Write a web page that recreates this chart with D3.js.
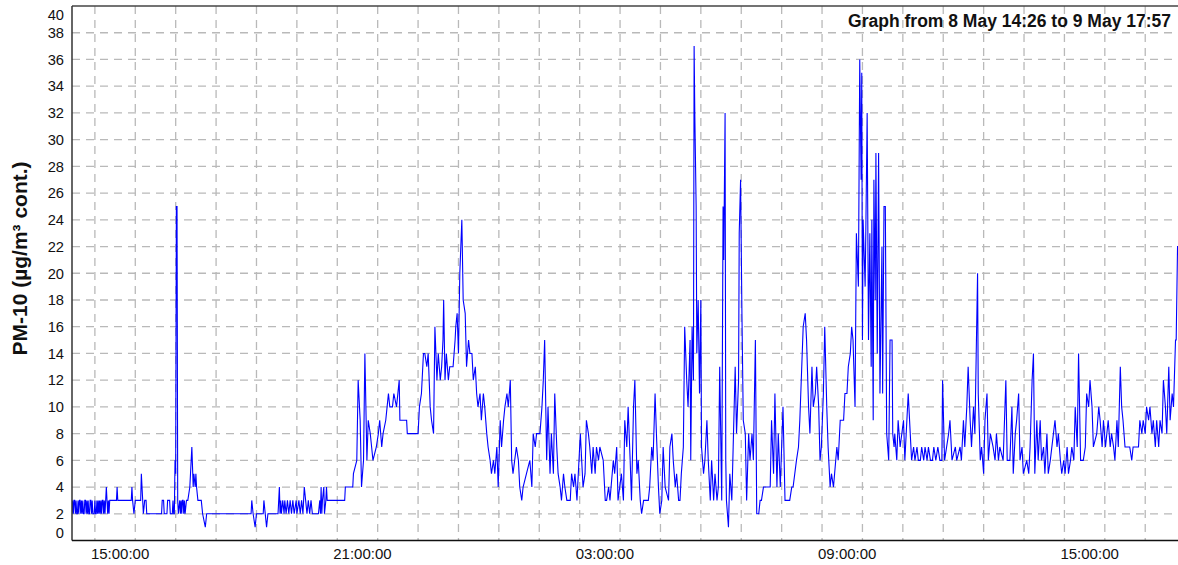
<!DOCTYPE html>
<html><head><meta charset="utf-8">
<script src="https://cdn.jsdelivr.net/npm/d3@7"></script>
<style>
html,body{margin:0;padding:0;background:#fff;}
svg{display:block;font-family:"Liberation Sans",Arial,sans-serif;}
</style></head>
<body><svg id="c" width="1178" height="565"></svg>
<script>
// ---- data (minutes after 8 May 14:26, PM-10 µg/m3) ----
const startTime = "2019-05-08T14:26:00";
const endTime = "2019-05-09T17:57:00";
const title = "Graph from 8 May 14:26 to 9 May 17:57";
const yLabel = "PM-10 (µg/m³ cont.)";
const yTicks = [0,2,4,6,8,10,12,14,16,18,20,22,24,26,28,30,32,34,36,38,40];
const xLabelTimes = ["2019-05-08T15:00:00","2019-05-08T21:00:00","2019-05-09T03:00:00","2019-05-09T09:00:00","2019-05-09T15:00:00"];

const minutes = [
0,1,2,3,4,5,6,7,8,9,10,11,12,13,14,15,16,17,18,19,20,21,22,23,24,25,26,27,28,29,30,31,32,33,34,35,36,37,38,39,40,41,42,43,44,45,46,47,48,49,50,51,52,53,54,55,56,
66,67,68,88,89,90,92,94,102,103,106,108,110,111,133,134,136,137,141,142,145,146,149,150,151,152,153,154,155,156,157,158,160,161,162,163,164,165,166,167,168,170,172,175,176,178,180,181,183,184,185,187,192,194,198,200,266,267,269,272,274,284,285,289,291,306,308,309,310,311,313,315,316,318,320,322,324,326,328,330,333,334,337,339,341,343,345,347,349,351,353,355,357,360,366,368,369,370,371,372,374,375,377,378,379,405,406,417,
418,423,425,428,430,433,435,438,440,443,445,447,452,455,457,460,462,466,468,470,472,476,478,482,486,487,497,498,514,516,519,522,524,527,529,532,534,537,539,542,544,547,549,551,552,554,556,559,561,566,569,570,572,574,576,579,581,584,586,589,591,594,596,599,601,603,606,608,611,613,616,618,621,623,626,628,631,633,636,638,641,643,646,648,651,653,655,660,663,665,668,670,675,680,683,685,688,690,695,698,700,702,705,
707,710,712,715,717,720,722,725,727,730,732,735,740,742,745,747,750,755,757,759,762,764,767,769,772,774,777,779,782,784,789,792,794,797,799,804,806,809,811,816,819,821,824,826,829,831,834,836,839,841,844,846,849,856,858,861,863,866,868,871,873,876,
878,881,886,888,891,893,896,898,901,903,905,908,910,913,915,918,919,921,923,924,925,927,928,930,932,934,935,938,940,943,945,948,950,953,955,958,960,962,965,967,968,970,971,972,975,977,980,982,985,987,990,991,993,995,997,1000,1002,1005,1007,1010,1012,1015,1017,1020,1022,1024,1027,1037,1039,1042,1044,1047,1049,1052,1056,1059,1066,1069,1071,
1076,1079,1081,1086,1089,1091,1094,1096,1099,1101,1104,1106,1109,1111,1113,1116,1118,1121,1123,1126,1128,1131,1136,1138,1141,1146,1148,1151,1153,1156,1158,1160,1163,1165,1168,1170,1172,1173,1174,1175,1178,1179,1181,1183,1185,1187,1188,1190,1191,1193,1194,1196,1198,1200,1203,1204,1206,1208,1210,1213,1215,1218,1219,1221,1222,1225,1227,1230,
1235,1237,1240,1242,1245,1247,1250,1252,1255,1257,1260,1262,1265,1267,1270,1272,1275,1278,1280,1283,1286,1289,1292,1293,1296,1302,1304,1307,1312,1314,1319,1321,1324,1326,1329,1331,1334,1336,1339,1341,1343,1345,1346,1349,1351,1354,1356,1359,1361,1364,1368,1371,1373,1376,1378,1383,1387,1389,1393,1396,1398,1401,1403,1406,1408,1411,1413,1418,1421,1423,1426,1428,1430,1433,1435,1438,1440,1443,1445,1448,1450,1453,
1460,1463,1465,1468,1470,1473,1475,1478,1480,1483,1485,1488,1490,1493,1495,1498,1502,1505,1507,1510,1512,1515,1517,1522,1525,1527,1530,1532,1535,1539,1542,1544,1547,1549,1552,1554,1557,1559,1561,1564,1571,1574,1576,1584,1586,1589,1591,1594,1596,1599,1601,1604,1606,1609,1611,1614,1616,1619,1621,1624,1626,1629,1631,1634,1636,1639,1640,1642,1646,1651
];
const pm10 = [
2,3,2,3,3,2,3,2,2,3,2,3,3,2,3,2,3,2,2,3,3,2,3,2,3,2,2,3,3,2,3,2,2,2,3,2,2,3,2,3,2,3,2,3,2,3,3,2,3,2,3,4,3,2,3,2,3,
3,4,3,3,4,3,2,3,3,5,2,3,3,2,2,3,3,2,2,3,3,2,2,3,2,2,6,5,25,25,3,2,3,2,3,2,3,3,2,3,2,3,3,4,5,7,4,5,4,5,4,3,3,2,1,2,2,3,2,1,2,2,3,1,2,2,4,2,3,2,3,2,3,2,3,2,3,2,3,2,3,2,3,2,3,2,4,3,2,3,2,3,2,2,2,3,2,4,2,3,4,2,3,4,3,3,4,4,
5,6,12,9,4,6,14,6,9,8,7,6,7,8,9,7,8,9,10,11,10,10,11,10,12,9,9,8,8,10,11,14,14,13,14,10,9,8,16,12,14,12,13,15,18,12,14,12,13,13,15,16,17,14,20,24,18,17,13,15,14,14,12,13,11,10,11,9,11,10,8,7,6,5,6,5,7,4,9,7,9,10,11,10,12,6,5,7,6,4,3,4,5,6,4,8,7,8,8,10,12,15,6,
10,5,8,5,11,7,5,4,3,5,4,3,3,5,4,5,3,8,6,4,5,9,8,7,5,7,5,7,6,7,6,3,3,4,3,6,5,7,3,5,3,9,7,10,6,3,10,12,5,6,3,2,3,3,4,7,6,11,8,4,2,3,
7,4,3,7,8,6,4,5,3,3,5,7,16,12,10,15,6,16,12,37,32,25,14,18,11,18,7,5,6,9,6,3,6,3,5,3,4,13,3,25,21,32,6,3,1,5,3,7,13,8,12,23,27,17,9,8,3,8,6,8,6,15,2,2,3,3,4,4,9,5,11,4,8,4,10,3,3,4,4,
6,7,9,16,17,15,10,8,13,10,11,13,10,6,7,11,16,10,7,4,5,4,7,6,9,9,11,11,13,14,16,15,10,23,19,36,27,35,15,24,19,23,32,15,23,13,24,9,27,18,29,14,29,11,22,11,25,25,8,6,15,15,8,7,8,6,9,7,
9,6,9,11,8,6,7,6,7,6,6,7,6,7,6,7,6,6,7,6,7,6,6,12,6,8,9,6,7,6,7,6,9,7,10,13,9,7,10,8,14,20,11,6,7,5,9,11,6,8,7,6,8,6,7,6,12,6,6,10,5,8,9,11,6,7,5,6,5,7,12,14,5,9,6,9,6,7,5,8,5,6,
9,7,8,6,5,6,5,7,5,6,7,6,10,7,14,6,6,7,11,10,12,10,7,8,10,9,7,9,7,9,7,8,7,6,9,7,13,10,9,7,7,6,7,7,9,8,9,8,10,9,10,8,9,7,9,7,9,8,12,10,8,13,9,11,10,15,15,22,22,21
];

// ---- layout ----
const W = 1178, H = 565;
const padL = 72, padT = 6, padB = 540.5;
const svg = d3.select("#c");
const t0 = new Date(startTime), t1 = new Date(endTime);
const x = d3.scaleTime().domain([t0, t1]).range([padL, 1183.6]);
const y = d3.scaleLinear().domain([0, 40]).range([padB, padT]);

const data = minutes.map((m, i) => ({t: new Date(t0.getTime() + m * 60000), v: pm10[i]}));

// grid
const gridColor = "#b9b9b9";
const hours = d3.timeHour.every(1).range(t0, t1);
svg.append("g").selectAll("line").data(hours).join("line")
  .attr("x1", d => x(d)).attr("x2", d => x(d))
  .attr("y1", padT).attr("y2", padB)
  .attr("stroke", gridColor).attr("stroke-width", 1.3).attr("stroke-dasharray", "8,6");
svg.append("g").selectAll("line").data(yTicks.filter(v => v > 0 && v < 40)).join("line")
  .attr("x1", padL).attr("x2", W)
  .attr("y1", d => y(d)).attr("y2", d => y(d))
  .attr("stroke", gridColor).attr("stroke-width", 1.3).attr("stroke-dasharray", "8,6");

// line
svg.append("defs").append("clipPath").attr("id", "clip")
  .append("rect").attr("x", padL).attr("y", padT).attr("width", W - padL).attr("height", padB - padT);
svg.append("path").datum(data)
  .attr("clip-path", "url(#clip)")
  .attr("fill", "none").attr("stroke", "#0000ff").attr("stroke-width", 1.1)
  .attr("d", d3.line().x(d => x(d.t)).y(d => y(d.v)));

// frame
svg.append("line").attr("x1", padL).attr("x2", W).attr("y1", padT).attr("y2", padT)
  .attr("stroke", "#444").attr("stroke-width", 1.5);
svg.append("line").attr("x1", padL).attr("x2", padL).attr("y1", padT).attr("y2", padB)
  .attr("stroke", "#333").attr("stroke-width", 1.5);
svg.append("line").attr("x1", padL).attr("x2", W).attr("y1", padB).attr("y2", padB)
  .attr("stroke", "#111").attr("stroke-width", 1.5);

// y tick labels
svg.append("g").selectAll("text").data(yTicks).join("text")
  .attr("x", 64)
  .attr("y", d => d === 0 ? y(d) - 8 : d === 40 ? y(d) + 9 : y(d))
  .attr("dy", "0.36em")
  .attr("text-anchor", "end")
  .attr("font-size", 14.7).attr("fill", "#111")
  .text(d => d);

// x labels
svg.append("g").selectAll("text").data(xLabelTimes.map(s => new Date(s))).join("text")
  .attr("x", d => x(d) - 4).attr("y", 559)
  .attr("text-anchor", "start")
  .attr("font-size", 15).attr("fill", "#111")
  .text(d => d3.timeFormat("%H:%M:%S")(d));

// title
svg.append("text").attr("x", 1171).attr("y", 26.5).attr("text-anchor", "end")
  .attr("font-size", 17.5).attr("font-weight", "bold").attr("fill", "#111").text(title);

// y label
svg.append("text").attr("transform", "translate(27,258.5) rotate(-90)")
  .attr("text-anchor", "middle").attr("font-size", 21).attr("font-weight", "bold").attr("fill", "#111")
  .text(yLabel);
</script></body></html>
